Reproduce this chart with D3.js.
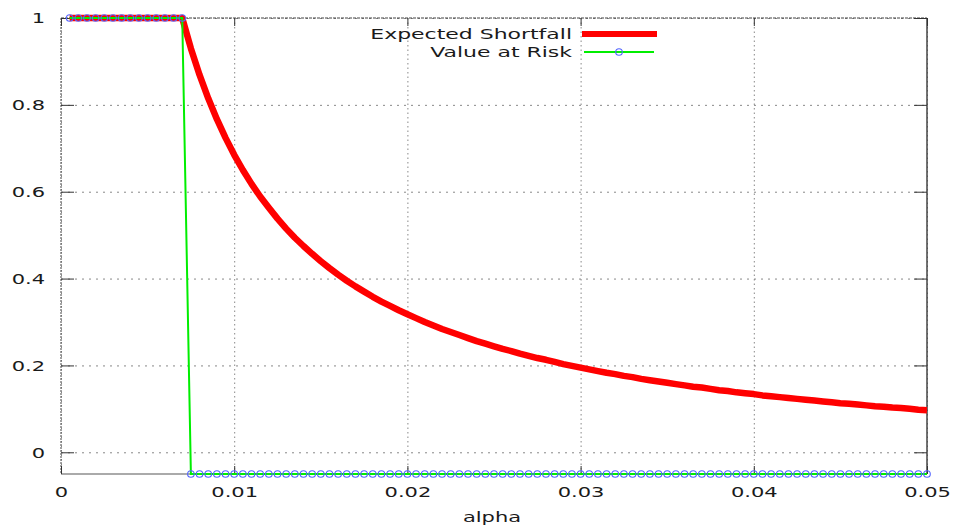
<!DOCTYPE html>
<html>
<head>
<meta charset="utf-8">
<script src="https://cdn.jsdelivr.net/npm/d3@7"></script>
<style>
  body { margin: 0; background: #fff; }
  text { font-family: "DejaVu Sans", sans-serif; font-size: 14px; fill: #1a1a1a; }
</style>
</head>
<body>
<div id="chart"></div>
<script>

// alpha sample points
var alpha = [
  0.0005,0.001,0.0015,0.002,0.0025,0.003,0.0035,0.004,0.0045,0.005,
  0.0055,0.006,0.0065,0.007,0.0075,0.008,0.0085,0.009,0.0095,0.01,
  0.0105,0.011,0.0115,0.012,0.0125,0.013,0.0135,0.014,0.0145,0.015,
  0.0155,0.016,0.0165,0.017,0.0175,0.018,0.0185,0.019,0.0195,0.02,
  0.0205,0.021,0.0215,0.022,0.0225,0.023,0.0235,0.024,0.0245,0.025,
  0.0255,0.026,0.0265,0.027,0.0275,0.028,0.0285,0.029,0.0295,0.03,
  0.0305,0.031,0.0315,0.032,0.0325,0.033,0.0335,0.034,0.0345,0.035,
  0.0355,0.036,0.0365,0.037,0.0375,0.038,0.0385,0.039,0.0395,0.04,
  0.0405,0.041,0.0415,0.042,0.0425,0.043,0.0435,0.044,0.0445,0.045,
  0.0455,0.046,0.0465,0.047,0.0475,0.048,0.0485,0.049,0.0495,0.05
];

var expectedShortfall = [
  1,1,1,1,1,1,1,1,1,1,
  1,1,1,1,0.930,0.869,0.815,0.767,0.724,0.685,
  0.650,0.618,0.589,0.563,0.538,0.515,0.494,0.475,0.457,0.440,
  0.424,0.409,0.395,0.382,0.370,0.358,0.347,0.337,0.327,0.318,
  0.309,0.300,0.292,0.284,0.277,0.270,0.263,0.256,0.250,0.244,
  0.238,0.233,0.227,0.222,0.217,0.213,0.208,0.203,0.199,0.195,
  0.191,0.187,0.183,0.180,0.176,0.173,0.169,0.166,0.163,0.160,
  0.157,0.154,0.151,0.149,0.146,0.143,0.141,0.138,0.136,0.134,
  0.131,0.129,0.127,0.125,0.123,0.121,0.119,0.117,0.115,0.113,
  0.112,0.110,0.108,0.106,0.105,0.103,0.102,0.100,0.098,0.097
];

var valueAtRisk = [
  1,1,1,1,1,1,1,1,1,1,
  1,1,1,1,-0.05,-0.05,-0.05,-0.05,-0.05,-0.05,
  -0.05,-0.05,-0.05,-0.05,-0.05,-0.05,-0.05,-0.05,-0.05,-0.05,
  -0.05,-0.05,-0.05,-0.05,-0.05,-0.05,-0.05,-0.05,-0.05,-0.05,
  -0.05,-0.05,-0.05,-0.05,-0.05,-0.05,-0.05,-0.05,-0.05,-0.05,
  -0.05,-0.05,-0.05,-0.05,-0.05,-0.05,-0.05,-0.05,-0.05,-0.05,
  -0.05,-0.05,-0.05,-0.05,-0.05,-0.05,-0.05,-0.05,-0.05,-0.05,
  -0.05,-0.05,-0.05,-0.05,-0.05,-0.05,-0.05,-0.05,-0.05,-0.05,
  -0.05,-0.05,-0.05,-0.05,-0.05,-0.05,-0.05,-0.05,-0.05,-0.05,
  -0.05,-0.05,-0.05,-0.05,-0.05,-0.05,-0.05,-0.05,-0.05,-0.05
];

var xTicks = [0, 0.01, 0.02, 0.03, 0.04, 0.05];
var xTickLabels = ["0", "0.01", "0.02", "0.03", "0.04", "0.05"];
var yTicks = [0, 0.2, 0.4, 0.6, 0.8, 1];
var yTickLabels = ["0", "0.2", "0.4", "0.6", "0.8", "1"];
var seriesNames = ["Expected Shortfall", "Value at Risk"];

var W = 954, H = 528;
var pLeft = 61, pRight = 927, pTop = 18, pBottom = 474;
var sx = 1.5; // horizontal stretch of the glyphs

var x = d3.scaleLinear().domain([0, 0.05]).range([pLeft, pRight]);
var y = d3.scaleLinear().domain([-0.05, 1]).range([pBottom, pTop]);

var svg = d3.select("#chart").append("svg")
    .attr("width", W)
    .attr("height", H);

// grid
svg.append("g")
    .attr("transform", "translate(" + pLeft + ",0)")
    .call(d3.axisLeft(y).tickValues(yTicks).tickSize(-(pRight - pLeft)).tickFormat(""))
    .call(function(g) {
      g.select(".domain").remove();
      g.selectAll("line").attr("stroke", "#888").attr("stroke-width", 1).attr("stroke-dasharray", "2,5");
    });

svg.append("g")
    .attr("transform", "translate(0," + pBottom + ")")
    .call(d3.axisBottom(x).tickValues(xTicks).tickSize(-(pBottom - pTop)).tickFormat(""))
    .call(function(g) {
      g.select(".domain").remove();
      g.selectAll("line").attr("stroke", "#888").attr("stroke-width", 1).attr("stroke-dasharray", "1.5,3");
    });

// border
svg.append("line").attr("x1", pLeft).attr("x2", pRight).attr("y1", pBottom).attr("y2", pBottom)
    .attr("stroke", "#aaa").attr("stroke-width", 2);
svg.append("line").attr("x1", pLeft).attr("x2", pLeft).attr("y1", pTop).attr("y2", pBottom)
    .attr("stroke", "#666").attr("stroke-width", 1.2).attr("stroke-dasharray", "2,1");
svg.append("line").attr("x1", pLeft).attr("x2", pRight).attr("y1", pTop).attr("y2", pTop)
    .attr("stroke", "#444").attr("stroke-width", 1.2).attr("stroke-dasharray", "3,1");
svg.append("line").attr("x1", pRight).attr("x2", pRight).attr("y1", pTop).attr("y2", pBottom)
    .attr("stroke", "#444").attr("stroke-width", 1.5);

// stretch helper for labels
function stretch(sel) {
  sel.each(function() {
    var t = d3.select(this);
    var px = +t.attr("data-x") || 0, py = +t.attr("data-y") || 0;
    t.attr("transform", "translate(" + px + "," + py + ") scale(" + sx + ",1)");
  });
}

// ticks + labels
var yAxis = svg.append("g")
    .attr("transform", "translate(" + pLeft + ",0)")
    .call(d3.axisLeft(y).tickValues(yTicks).tickSize(-13).tickPadding(0)
      .tickFormat(function(d, i) { return yTickLabels[i]; }));
yAxis.select(".domain").remove();
yAxis.attr("font-family", null).attr("font-size", null);
yAxis.selectAll(".tick line").attr("stroke", "#333");
yAxis.selectAll(".tick text")
    .attr("x", null).attr("dy", "0.35em").attr("fill", "#1a1a1a")
    .attr("text-anchor", "end")
    .attr("data-x", -16)
    .call(stretch);

svg.append("g")
    .attr("transform", "translate(" + pRight + ",0)")
    .call(d3.axisRight(y).tickValues(yTicks).tickSize(-13).tickFormat(""))
    .call(function(g) {
      g.select(".domain").remove();
      g.selectAll("line").attr("stroke", "#333");
    });

var xAxis = svg.append("g")
    .attr("transform", "translate(0," + pBottom + ")")
    .call(d3.axisBottom(x).tickValues(xTicks).tickSize(-8)
      .tickFormat(function(d, i) { return xTickLabels[i]; }));
xAxis.select(".domain").remove();
xAxis.attr("font-family", null).attr("font-size", null);
xAxis.selectAll(".tick line").attr("stroke", "#333");
xAxis.selectAll(".tick text")
    .attr("y", null).attr("dy", null).attr("fill", "#1a1a1a")
    .attr("data-y", 23)
    .call(stretch);

svg.append("g")
    .attr("transform", "translate(0," + pTop + ")")
    .call(d3.axisTop(x).tickValues(xTicks).tickSize(-8).tickFormat(""))
    .call(function(g) {
      g.select(".domain").remove();
      g.selectAll("line").attr("stroke", "#333");
    });

// axis title
svg.append("text")
    .attr("text-anchor", "middle")
    .attr("transform", "translate(492,522) scale(" + sx + ",1)")
    .text("alpha");

// series
var seriesLine = d3.line()
    .x(function(d, i) { return x(alpha[i]); })
    .y(function(d) { return y(d); });

svg.append("path")
    .datum(expectedShortfall)
    .attr("d", seriesLine)
    .attr("fill", "none")
    .attr("stroke", "#ff0000")
    .attr("stroke-width", 6.5)
    .attr("stroke-linejoin", "round");

svg.append("path")
    .datum(valueAtRisk)
    .attr("d", seriesLine)
    .attr("fill", "none")
    .attr("stroke", "#00ee00")
    .attr("stroke-width", 2);

svg.selectAll("circle.var")
    .data(valueAtRisk)
    .enter().append("circle")
    .attr("class", "var")
    .attr("cx", function(d, i) { return x(alpha[i]); })
    .attr("cy", function(d) { return y(d); })
    .attr("r", 3.3)
    .attr("fill", "none")
    .attr("stroke", "#5566ff")
    .attr("stroke-width", 1.1);

// legend
var legend = svg.append("g");
legend.append("text")
    .attr("text-anchor", "end")
    .attr("transform", "translate(572,39) scale(1.57,1)")
    .text(seriesNames[0]);
legend.append("line")
    .attr("x1", 582).attr("x2", 657).attr("y1", 34).attr("y2", 34)
    .attr("stroke", "#ff0000").attr("stroke-width", 6);

legend.append("text")
    .attr("text-anchor", "end")
    .attr("transform", "translate(572,57) scale(1.57,1)")
    .text(seriesNames[1]);
legend.append("line")
    .attr("x1", 584).attr("x2", 654).attr("y1", 52).attr("y2", 52)
    .attr("stroke", "#00ee00").attr("stroke-width", 2);
legend.append("circle")
    .attr("cx", 619).attr("cy", 52).attr("r", 3.3)
    .attr("fill", "none").attr("stroke", "#5566ff").attr("stroke-width", 1.1);

</script>
</body>
</html>
